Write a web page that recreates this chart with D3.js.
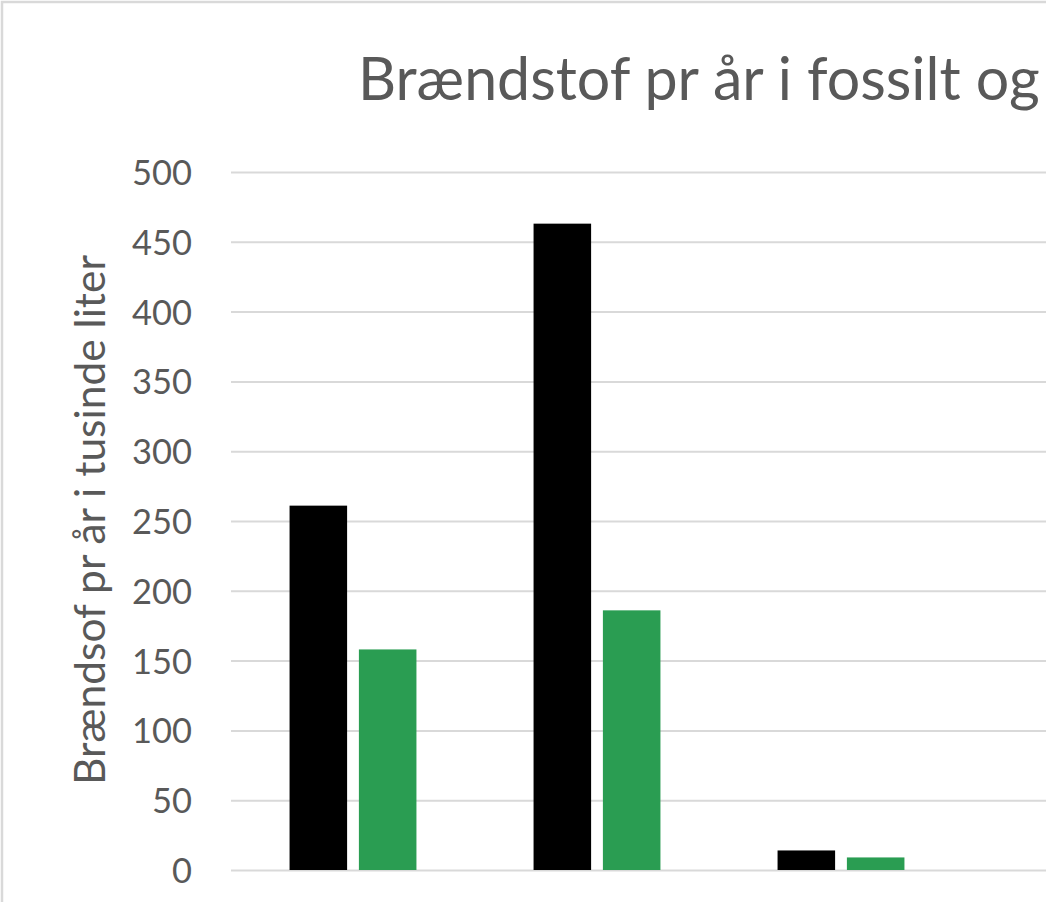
<!DOCTYPE html>
<html>
<head>
<meta charset="utf-8">
<script src="https://cdn.jsdelivr.net/npm/d3@7"></script>
<style>
  html, body { margin: 0; padding: 0; background: #fff; overflow: hidden; }
  svg { display: block; }
  text { font-family: Lato, "Open Sans", sans-serif; fill: #595959; }
</style>
</head>
<body>
<svg id="chart" width="1046" height="902"></svg>
<script>
// ---- data ----
const categories = ["Kategori 1", "Kategori 2", "Kategori 3"];
const seriesNames = ["Fossilt", "Biobrændstof"];
const fossilValues = [261, 463, 14];
const bioValues = [158, 186, 9];
const yTicks = [0, 50, 100, 150, 200, 250, 300, 350, 400, 450, 500];
const titleText = "Brændstof pr år i fossilt og";
const yLabelText = "Brændsof pr år i tusinde liter";

const seriesValues = [fossilValues, bioValues];
const colors = ["#000000", "#2a9d52"];

const svg = d3.select("#chart");
const W = 1046, H = 902;

// chart-area border (extends past the crop on right/bottom)
svg.append("rect")
  .attr("x", 2).attr("y", 2)
  .attr("width", W + 20).attr("height", H + 20)
  .attr("fill", "#fff").attr("stroke", "#d9d9d9").attr("stroke-width", 2.5);

const plotLeft = 231, plotTop = 172, plotBottom = 870;

const y = d3.scaleLinear().domain([0, 500]).range([plotBottom, plotTop]);
const x0 = d3.scaleBand().domain(categories).range([plotLeft, plotLeft + 3 * 244])
  .paddingInner(0.48).paddingOuter(0.24);
const x1 = d3.scaleBand().domain(seriesNames).range([0, x0.bandwidth()]).paddingInner(0.17);

// gridlines (extend to the right edge of the crop)
const yAxis = d3.axisLeft(y).tickValues(yTicks).tickSize(-(W + 10 - plotLeft)).tickPadding(39);
const gAxis = svg.append("g").attr("transform", `translate(${plotLeft},0)`).call(yAxis);
gAxis.select(".domain").remove();
gAxis.selectAll(".tick line").attr("stroke", "#d9d9d9").attr("stroke-width", 2);
gAxis.selectAll(".tick text")
  .style("font-family", "Lato, 'Open Sans', sans-serif")
  .attr("fill", "#595959").attr("dy", "0.36em");

// fit tick font so that "500" is ~60px wide
(function () {
  const t = gAxis.selectAll(".tick text").filter(d => d === 500);
  t.style("font-size", "40px");
  const w = t.node().getComputedTextLength();
  const fs = 40 * 60 / w;
  gAxis.selectAll(".tick text").style("font-size", fs + "px");
})();

// bars
const groups = svg.append("g").selectAll("g")
  .data(categories).join("g")
  .attr("transform", d => `translate(${x0(d)},0)`);

groups.selectAll("rect")
  .data((c, i) => seriesNames.map((s, j) => ({ s, v: seriesValues[j][i], j })))
  .join("rect")
  .attr("x", d => x1(d.s))
  .attr("width", x1.bandwidth())
  .attr("y", d => y(d.v))
  .attr("height", d => y(0) - y(d.v))
  .attr("fill", d => colors[d.j]);

// title (cropped at the right)
const title = svg.append("text")
  .attr("x", 358).attr("y", 100)
  .attr("text-anchor", "start")
  .style("font-size", "60px")
  .text(titleText);
(function () {
  const w = title.node().getComputedTextLength();
  title.style("font-size", (60 * 682 / w) + "px");
})();

// y-axis label
const yl = svg.append("text")
  .attr("transform", "translate(105,520) rotate(-90)")
  .attr("text-anchor", "middle")
  .style("font-size", "44px")
  .text(yLabelText);
(function () {
  const w = yl.node().getComputedTextLength();
  yl.style("font-size", (44 * 530 / w) + "px");
})();
</script>
</body>
</html>
